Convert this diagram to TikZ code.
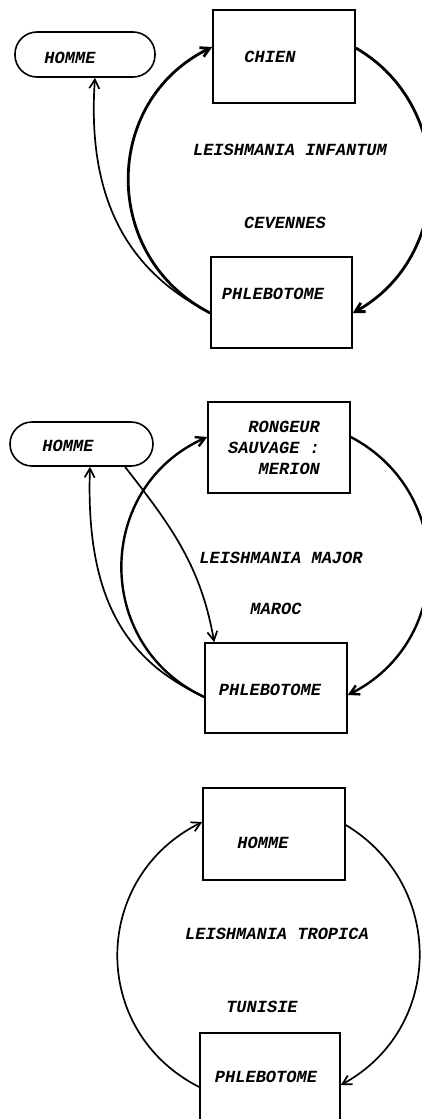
\documentclass[tikz,border=0pt]{standalone}
\usepackage{fontspec}
\newfontfamily\dotf{Liberation Mono}
\usetikzlibrary{arrows.meta}
\tikzset{
  box/.style={draw, line width=1.6pt, inner sep=0pt},
  roundbox/.style={box, rounded corners=22pt},
  arr/.style={-{Straight Barb[length=9pt,width=10pt]}},
  rarr/.style={{Straight Barb[length=9pt,width=10pt]}-},
  heavy/.style={line width=2.8pt},
  medium/.style={line width=2.4pt},
  light/.style={line width=1.7pt},
}
\begin{document}
\begin{tikzpicture}[x=1pt,y=1pt,font=\dotf\bfseries\itshape\fontsize{17pt}{21pt}\selectfont]
\useasboundingbox (0,0) rectangle (422,-1119);
% ---------- diagram 1 ----------
\node[roundbox, minimum width=140pt, minimum height=45pt,
      label={[shift={(-15pt,-3pt)}]center:HOMME}] (homme1) at (85,-54.5) {};
\node[box, minimum width=142pt, minimum height=93pt,
      label={[shift={(-14pt,-0.5pt)}]center:CHIEN}] (chien) at (284,-56.5) {};
\node (l1) at (290,-150) {LEISHMANIA INFANTUM};
\node (cev) at (285,-223) {CEVENNES};
\node[box, minimum width=141pt, minimum height=91pt,
      label={[shift={(-8.5pt,8.5pt)}]center:PHLEBOTOME}] (phleb1) at (281.5,-302.5) {};
\draw[heavy, arr] ([yshift=-10.5pt]phleb1.west) .. controls +(153:123pt) and +(206:123pt) .. ([yshift=9.5pt]chien.west);
\draw[heavy, arr] ([yshift=8.5pt]chien.east) .. controls +(-30:116pt) and +(29:116pt) .. ([yshift=-10.5pt]phleb1.east);
\draw[light, rarr] ([xshift=10pt]homme1.south) .. controls +(-94:140pt) and +(153:75pt) .. ([yshift=-10.5pt]phleb1.west);
% ---------- diagram 2 ----------
\node[roundbox, minimum width=143pt, minimum height=44pt,
      label={[shift={(-13.5pt,-1.5pt)}]center:HOMME}] (homme2) at (81.5,-444) {};
\node[box, minimum width=142pt, minimum height=91pt,
      label={[shift={(-5pt,0pt)},align=right]center:{RONGEUR\\SAUVAGE :\\MERION}}] (rong) at (279,-447.5) {};
\node (l2) at (281,-558) {LEISHMANIA MAJOR};
\node (maroc) at (276,-609) {MAROC};
\node[box, minimum width=142pt, minimum height=90pt,
      label={[shift={(-6pt,-2pt)}]center:PHLEBOTOME}] (phleb2) at (276,-688) {};
\draw[medium, arr] ([yshift=-9pt]phleb2.west) .. controls +(155:123pt) and +(204:123pt) .. ([yshift=10.5pt]rong.west);
\draw[medium, arr] ([yshift=10.5pt]rong.east) .. controls +(-27.7:118.6pt) and +(26.6:118.6pt) .. ([yshift=-7pt]phleb2.east);
\draw[light, rarr] ([xshift=8.5pt]homme2.south) .. controls +(-92:140pt) and +(155:80pt) .. ([yshift=-9pt]phleb2.west);
\draw[light, arr] ([xshift=43.5pt]homme2.south) to[out=-52,in=100] ([xshift=10pt]phleb2.north west);
% ---------- diagram 3 ----------
\node[box, minimum width=142pt, minimum height=92pt,
      label={[shift={(-11pt,-9pt)}]center:HOMME}] (homme3) at (274,-834) {};
\node (l3) at (277,-934) {LEISHMANIA TROPICA};
\node (tun) at (262,-1007) {TUNISIE};
\node[box, minimum width=140pt, minimum height=92pt,
      label={[shift={(-4pt,2pt)}]center:PHLEBOTOME}] (phleb3) at (270,-1079) {};
\draw[light, arr] ([yshift=-8pt]phleb3.west) .. controls +(153.1:124pt) and +(206.4:124pt) .. ([yshift=12pt]homme3.west);
\draw[light, arr] ([yshift=9pt]homme3.east) .. controls +(-31:117pt) and +(28.6:117pt) .. ([yshift=-6pt]phleb3.east);
\end{tikzpicture}
\end{document}
